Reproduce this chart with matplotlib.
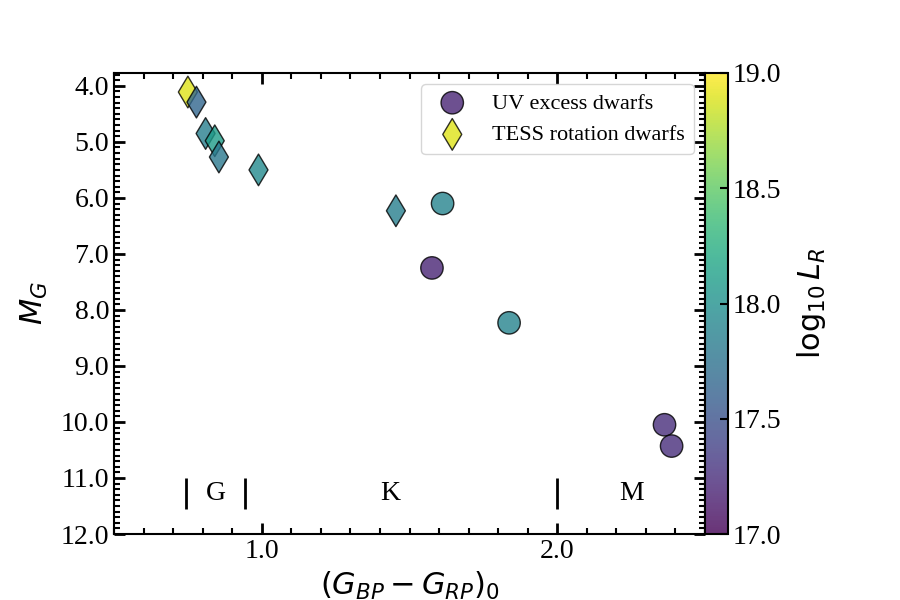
import numpy as np
import matplotlib
matplotlib.use("Agg")
import matplotlib.pyplot as plt
from matplotlib.ticker import MultipleLocator, FormatStrFormatter

# UV excess dwarfs (circles)
uv_color = [1.576, 1.612, 1.837, 2.363, 2.387]
uv_mag = [7.25, 6.10, 8.23, 10.05, 10.43]
uv_logLR = [17.2, 17.9, 17.9, 17.25, 17.25]

# TESS rotation dwarfs (diamonds)
tess_color = [0.750, 0.779, 0.810, 0.841, 0.855, 0.989, 1.454]
tess_mag = [4.11, 4.29, 4.85, 4.98, 5.27, 5.50, 6.23]
tess_logLR = [18.9, 17.65, 17.85, 18.1, 17.8, 17.95, 17.85]

# spectral type boundaries and labels
sp_bounds = [0.745, 0.945, 2.0]
sp_labels = ['G', 'K', 'M']
sp_label_x = [0.845, 1.434, 2.25]

plt.rcParams['font.family'] = 'Liberation Serif'
plt.rcParams['mathtext.fontset'] = 'dejavusans'

fig = plt.figure(figsize=(9, 6), dpi=100)
ax = fig.add_axes([114/900, 66/600, 591/900, 461/600])
cax = fig.add_axes([705/900, 66/600, 23/900, 461/600])

kw = dict(cmap='viridis', vmin=17, vmax=19, s=260, alpha=0.8,
          edgecolors='black', linewidths=1.0, zorder=3)
sc = ax.scatter(uv_color, uv_mag, c=uv_logLR, marker='o', label='UV excess dwarfs', **kw)
ax.scatter(tess_color, tess_mag, c=tess_logLR, marker='d', label='TESS rotation dwarfs', **kw)

ax.vlines(sp_bounds, 11.0, 11.55, color='black', lw=2)
for lab, xl in zip(sp_labels, sp_label_x):
    ax.text(xl, 11.27, lab, ha='center', va='center', fontsize=20)

ax.set_xlim(0.5, 2.5)
ax.set_ylim(12.0, 3.77)
ax.xaxis.set_major_locator(MultipleLocator(1.0))
ax.xaxis.set_minor_locator(MultipleLocator(0.1))
ax.yaxis.set_major_locator(MultipleLocator(1.0))
ax.yaxis.set_minor_locator(MultipleLocator(0.1))
ax.xaxis.set_major_formatter(FormatStrFormatter('%.1f'))
ax.yaxis.set_major_formatter(FormatStrFormatter('%.1f'))
ax.tick_params(which='both', direction='in', top=True, right=True, labelsize=20)
ax.tick_params(which='major', length=8, width=2)
ax.tick_params(which='minor', length=4, width=1.5)
for sp in ax.spines.values():
    sp.set_linewidth(1.5)

ax.set_xlabel(r'$(G_{BP}-G_{RP})_0$', fontsize=22, labelpad=4)
ax.set_ylabel(r'$M_G$', fontsize=22, labelpad=8)

leg = ax.legend(loc='upper right', fontsize=16, borderpad=0.4)

cb = fig.colorbar(sc, cax=cax)
cb.solids.set_alpha(0.8)
cb.set_ticks([17.0, 17.5, 18.0, 18.5, 19.0])
cb.ax.yaxis.set_major_formatter(FormatStrFormatter('%.1f'))
cb.ax.tick_params(direction='in', labelsize=20, length=6, width=1.5)
cb.outline.set_linewidth(1.5)
cb.set_label(r'$\log_{10} L_R$', fontsize=22, labelpad=10)

fig.savefig('out.png', dpi=100)
